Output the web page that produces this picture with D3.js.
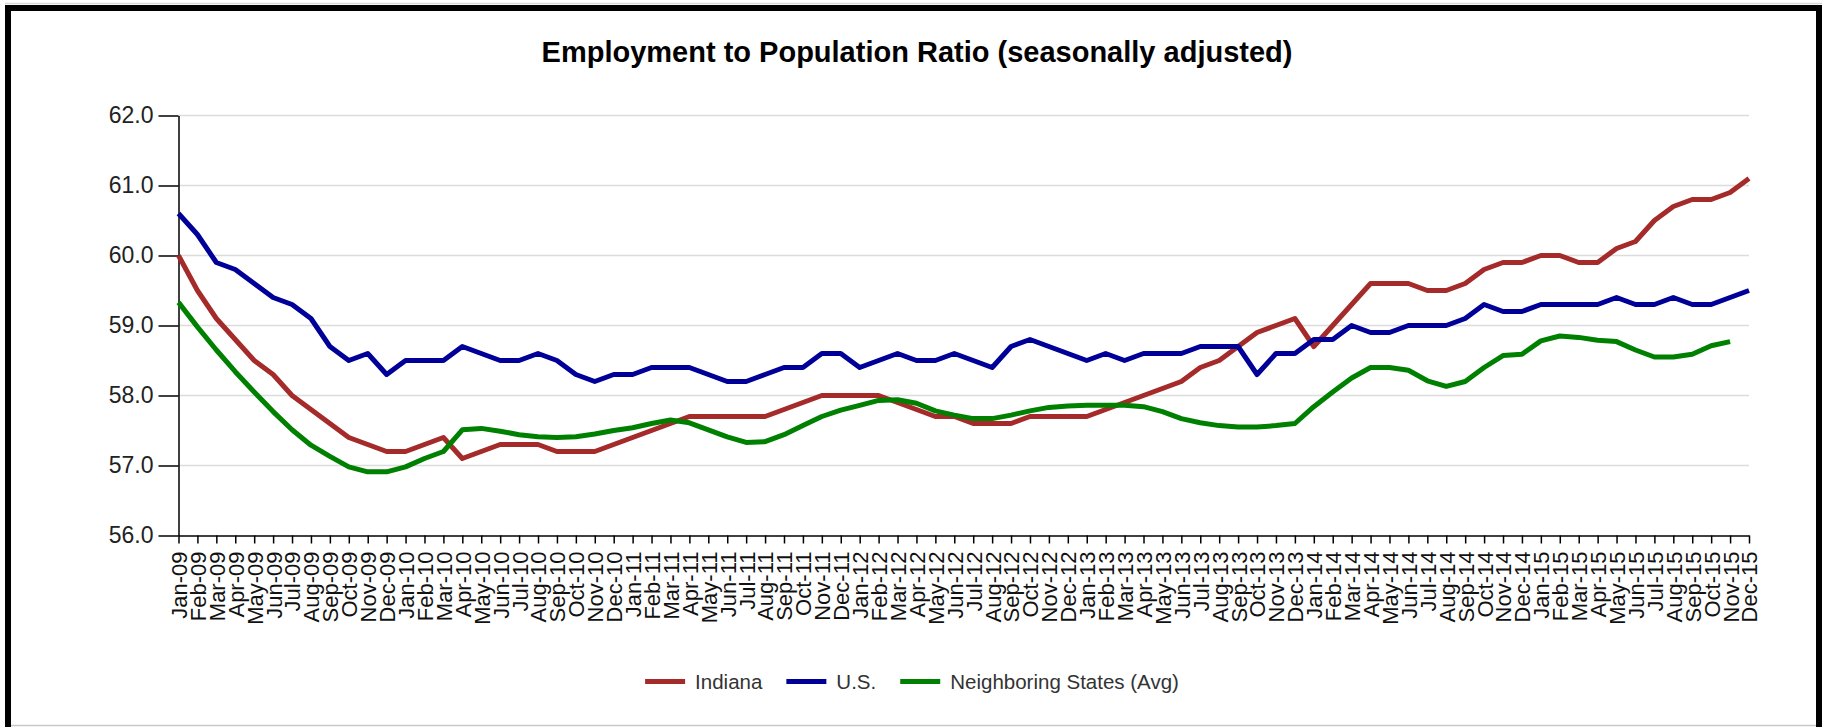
<html>
    <head>
        <style>
            body {
                margin: 0;
                background: white;
            }

            svg {
                display: block;
                font-family: "Liberation Sans", Arial, sans-serif;
            }

            .title {
                font-size: 29px;
                font-weight: bold;
                fill: black;
            }

            .y .tick text {
                font-size: 23px;
                fill: #222;
            }

            .x .tick text {
                font-size: 22px;
                fill: #111;
            }

            .axis path, .axis line {
                stroke: black;
                stroke-width: 1.5;
            }

            .grid line {
                stroke: #dcdcdc;
                stroke-width: 1.5;
            }

            .legend text {
                font-size: 20.5px;
                fill: #333;
            }
        </style>
    </head>

    <body>
        <svg width="1825" height="727"></svg>

        <script src="https://cdnjs.cloudflare.com/ajax/libs/d3/7.8.5/d3.min.js"></script>

        <script>

            let months = [
                "Jan-09", "Feb-09", "Mar-09", "Apr-09", "May-09", "Jun-09", "Jul-09", "Aug-09", "Sep-09", "Oct-09", "Nov-09", "Dec-09",
                "Jan-10", "Feb-10", "Mar-10", "Apr-10", "May-10", "Jun-10", "Jul-10", "Aug-10", "Sep-10", "Oct-10", "Nov-10", "Dec-10",
                "Jan-11", "Feb-11", "Mar-11", "Apr-11", "May-11", "Jun-11", "Jul-11", "Aug-11", "Sep-11", "Oct-11", "Nov-11", "Dec-11",
                "Jan-12", "Feb-12", "Mar-12", "Apr-12", "May-12", "Jun-12", "Jul-12", "Aug-12", "Sep-12", "Oct-12", "Nov-12", "Dec-12",
                "Jan-13", "Feb-13", "Mar-13", "Apr-13", "May-13", "Jun-13", "Jul-13", "Aug-13", "Sep-13", "Oct-13", "Nov-13", "Dec-13",
                "Jan-14", "Feb-14", "Mar-14", "Apr-14", "May-14", "Jun-14", "Jul-14", "Aug-14", "Sep-14", "Oct-14", "Nov-14", "Dec-14",
                "Jan-15", "Feb-15", "Mar-15", "Apr-15", "May-15", "Jun-15", "Jul-15", "Aug-15", "Sep-15", "Oct-15", "Nov-15", "Dec-15"
            ]

            let indiana = [
                60.0, 59.5, 59.1, 58.8, 58.5, 58.3, 58.0, 57.8, 57.6, 57.4, 57.3, 57.2,
                57.2, 57.3, 57.4, 57.1, 57.2, 57.3, 57.3, 57.3, 57.2, 57.2, 57.2, 57.3,
                57.4, 57.5, 57.6, 57.7, 57.7, 57.7, 57.7, 57.7, 57.8, 57.9, 58.0, 58.0,
                58.0, 58.0, 57.9, 57.8, 57.7, 57.7, 57.6, 57.6, 57.6, 57.7, 57.7, 57.7,
                57.7, 57.8, 57.9, 58.0, 58.1, 58.2, 58.4, 58.5, 58.7, 58.9, 59.0, 59.1,
                58.7, 59.0, 59.3, 59.6, 59.6, 59.6, 59.5, 59.5, 59.6, 59.8, 59.9, 59.9,
                60.0, 60.0, 59.9, 59.9, 60.1, 60.2, 60.5, 60.7, 60.8, 60.8, 60.9, 61.1
            ]

            let us = [
                60.6, 60.3, 59.9, 59.8, 59.6, 59.4, 59.3, 59.1, 58.7, 58.5, 58.6, 58.3,
                58.5, 58.5, 58.5, 58.7, 58.6, 58.5, 58.5, 58.6, 58.5, 58.3, 58.2, 58.3,
                58.3, 58.4, 58.4, 58.4, 58.3, 58.2, 58.2, 58.3, 58.4, 58.4, 58.6, 58.6,
                58.4, 58.5, 58.6, 58.5, 58.5, 58.6, 58.5, 58.4, 58.7, 58.8, 58.7, 58.6,
                58.5, 58.6, 58.5, 58.6, 58.6, 58.6, 58.7, 58.7, 58.7, 58.3, 58.6, 58.6,
                58.8, 58.8, 59.0, 58.9, 58.9, 59.0, 59.0, 59.0, 59.1, 59.3, 59.2, 59.2,
                59.3, 59.3, 59.3, 59.3, 59.4, 59.3, 59.3, 59.4, 59.3, 59.3, 59.4, 59.5
            ]

            // no value for Dec-15
            let neighbors = [
                59.33, 58.98, 58.65, 58.34, 58.05, 57.77, 57.51, 57.29, 57.13, 56.98, 56.91, 56.91,
                56.98, 57.10, 57.20, 57.51, 57.53, 57.49, 57.44, 57.41, 57.40, 57.41, 57.45, 57.50,
                57.54, 57.60, 57.65, 57.61, 57.51, 57.41, 57.33, 57.34, 57.44, 57.57, 57.70, 57.79,
                57.86, 57.93, 57.94, 57.89, 57.78, 57.72, 57.67, 57.67, 57.72, 57.78, 57.83, 57.85,
                57.86, 57.86, 57.86, 57.84, 57.77, 57.67, 57.61, 57.57, 57.55, 57.55, 57.57, 57.60,
                57.84, 58.05, 58.25, 58.40, 58.40, 58.36, 58.21, 58.13, 58.20, 58.40, 58.57, 58.59,
                58.78, 58.85, 58.83, 58.79, 58.77, 58.65, 58.55, 58.55, 58.59, 58.71, 58.77, null
            ]

            let yTicks = [56, 57, 58, 59, 60, 61, 62]

            let seriesNames = ["Indiana", "U.S.", "Neighboring States (Avg)"]
            let seriesColors = ["#a52a2a", "#000099", "#008000"]

            let series = [indiana, us, neighbors]

            let svg = d3.select("svg")

            let margin = {top: 115.5, right: 76, bottom: 191.5, left: 178.5}
            let width = 1825
            let height = 727

            // frame
            svg.append("line")
                .attr("x1", 11).attr("x2", 1817)
                .attr("y1", 725.5).attr("y2", 725.5)
                .attr("stroke", "#c8c8c8")
                .attr("stroke-width", 1.5)
            svg.append("line")
                .attr("x1", 5).attr("x2", 1822)
                .attr("y1", 3.5).attr("y2", 3.5)
                .attr("stroke", "#d8d8d8")
                .attr("stroke-width", 1.5)
            svg.append("path")
                .attr("d", "M8,727 L8,8 L1819,8 L1819,727")
                .attr("fill", "none")
                .attr("stroke", "black")
                .attr("stroke-width", 6)

            let x = d3.scalePoint()
                .domain(months)
                .range([margin.left, width - margin.right])

            let y = d3.scaleLinear()
                .domain([56, 62])
                .range([height - margin.bottom, margin.top])

            svg.append("text")
                .attr("class", "title")
                .attr("x", 917)
                .attr("y", 62)
                .attr("text-anchor", "middle")
                .text("Employment to Population Ratio (seasonally adjusted)")

            // gridlines
            svg.append("g")
                .attr("class", "grid")
                .selectAll("line")
                .data(yTicks.filter(d => d > 56))
                .join("line")
                .attr("x1", margin.left)
                .attr("x2", width - margin.right)
                .attr("y1", d => y(d))
                .attr("y2", d => y(d))

            let yAxis = svg.append("g")
                .attr("class", "y axis")
                .attr("transform", `translate(${margin.left},0)`)
                .call(d3.axisLeft(y)
                    .tickValues(yTicks)
                    .tickFormat(d3.format(".1f"))
                    .tickSize(20)
                    .tickSizeOuter(0)
                    .tickPadding(5))

            let xAxis = svg.append("g")
                .attr("class", "x axis")
                .attr("transform", `translate(0,${height - margin.bottom})`)
                .call(d3.axisBottom(x)
                    .tickSize(8)
                    .tickSizeOuter(0))

            xAxis.selectAll(".tick text")
                .attr("transform", "rotate(-90)")
                .attr("text-anchor", "end")
                .attr("x", -16)
                .attr("y", 0)
                .attr("dy", "0.36em")

            let line = d3.line()
                .defined(d => d != null)
                .x((d, i) => x(months[i]))
                .y(d => y(d))

            svg.append("g")
                .attr("class", "lines")
                .selectAll("path")
                .data(series)
                .join("path")
                .attr("fill", "none")
                .attr("stroke", (d, i) => seriesColors[i])
                .attr("stroke-width", 5)
                .attr("stroke-linejoin", "round")
                .attr("d", line)

            // legend
            let legend = svg.append("g")
                .attr("class", "legend")

            let items = legend.selectAll("g")
                .data(seriesNames)
                .join("g")

            items.append("line")
                .attr("x1", 0).attr("x2", 40)
                .attr("y1", 0).attr("y2", 0)
                .attr("stroke", (d, i) => seriesColors[i])
                .attr("stroke-width", 5)

            items.append("text")
                .attr("x", 50)
                .attr("dy", "0.35em")
                .text(d => d)

            let pos = 0
            items.each(function () {
                let w = this.querySelector("text").getComputedTextLength()
                d3.select(this).attr("transform", `translate(${pos},0)`)
                pos += 50 + w + 24
            })
            let total = pos - 24
            legend.attr("transform", `translate(${912 - total / 2},681.5)`)

        </script>
    </body>
</html>
